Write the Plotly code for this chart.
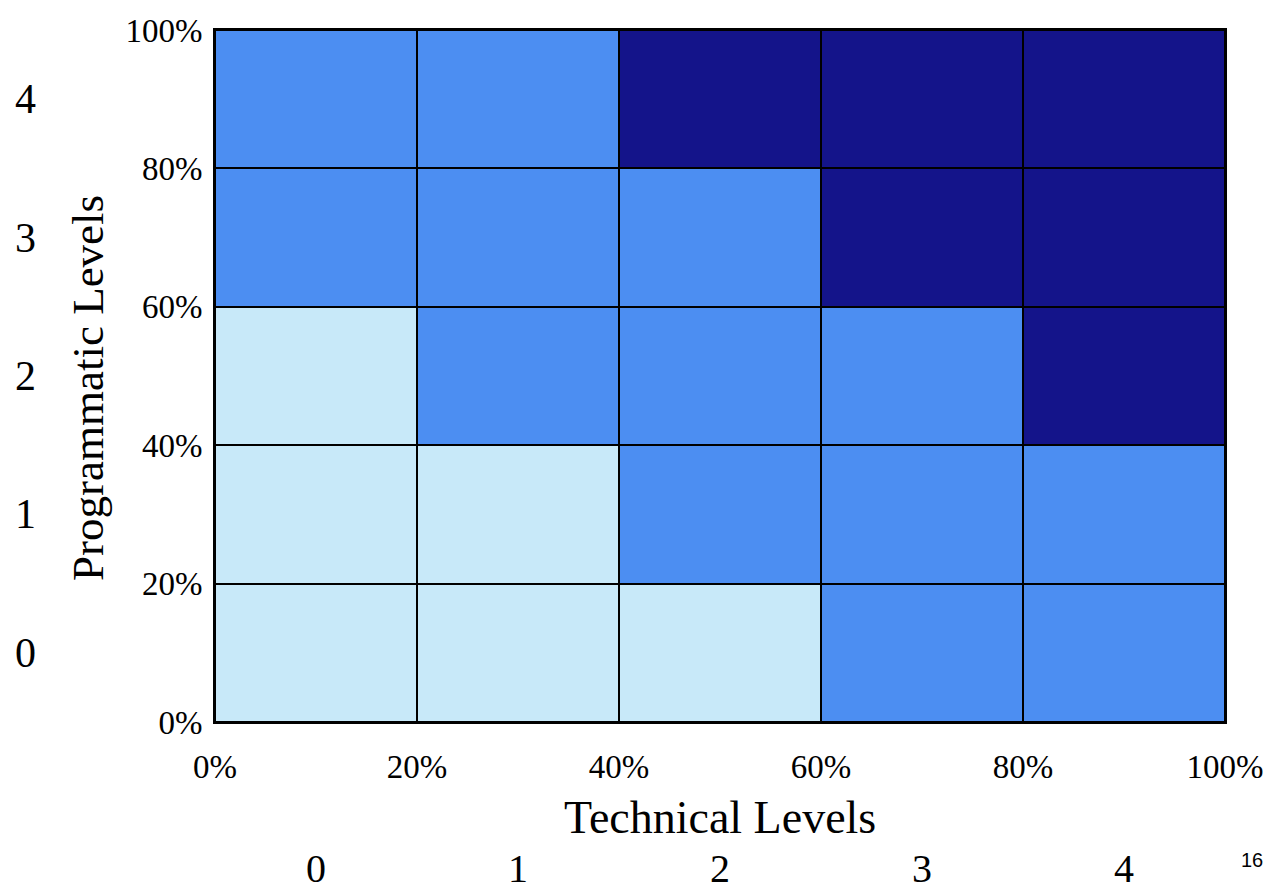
import plotly.graph_objects as go

# ---- data ----
technical_levels = ["0", "1", "2", "3", "4"]
programmatic_levels = ["0", "1", "2", "3", "4"]
pct_ticks = [0, 20, 40, 60, 80, 100]
pct_labels = ["0%", "20%", "40%", "60%", "80%", "100%"]
# level code per cell (0 = light, 1 = medium, 2 = dark); rows bottom (0) -> top (4)
row_p0 = [0, 0, 0, 1, 1]
row_p1 = [0, 0, 1, 1, 1]
row_p2 = [0, 1, 1, 1, 2]
row_p3 = [1, 1, 1, 2, 2]
row_p4 = [1, 1, 2, 2, 2]
z = [row_p0, row_p1, row_p2, row_p3, row_p4]

LIGHT = "#c8e9f9"
MED = "#4c8ef2"
DARK = "#14148a"
SERIF = "Liberation Serif, Times New Roman, serif"

step = 100 / len(technical_levels)
centers = [step * i + step / 2 for i in range(len(technical_levels))]

fig = go.Figure(go.Heatmap(
    z=z, x=centers, y=centers,
    zmin=0, zmax=2,
    colorscale=[[0, LIGHT], [1/3, LIGHT], [1/3, MED], [2/3, MED], [2/3, DARK], [1, DARK]],
    showscale=False, xgap=2, ygap=2, hoverinfo="skip",
))

fig.update_layout(
    width=1268, height=890,
    margin=dict(l=215, r=43, t=30, b=168),
    paper_bgcolor="white", plot_bgcolor="black",
    font=dict(family=SERIF, color="black"),
    showlegend=False,
)
fig.update_xaxes(
    range=[0, 100], tickvals=pct_ticks, ticktext=pct_labels,
    tickfont=dict(size=33, family=SERIF), ticks="", ticklabelstandoff=14,
    ticklabeloverflow="allow", automargin=False,
    showgrid=False, zeroline=False, showline=True, linecolor="black",
    linewidth=2, mirror=True,
)
fig.update_yaxes(
    range=[0, 100], tickvals=pct_ticks, ticktext=pct_labels,
    tickfont=dict(size=33, family=SERIF), ticks="", ticklabelstandoff=4,
    ticklabeloverflow="allow", automargin=False,
    showgrid=False, zeroline=False, showline=True, linecolor="black",
    linewidth=2, mirror=True,
)

ann = []
for c, lab in zip(centers, technical_levels):
    ann.append(dict(x=c, y=-0.212, xref="x", yref="paper", text=lab,
                    showarrow=False, font=dict(size=40, family=SERIF),
                    xanchor="center", yanchor="middle"))
for c, lab in zip(centers, programmatic_levels):
    ann.append(dict(x=-0.188, y=c, xref="paper", yref="y", text=lab,
                    showarrow=False, font=dict(size=42, family=SERIF),
                    xanchor="center", yanchor="middle"))
ann.append(dict(x=0.5, y=-0.1387, xref="paper", yref="paper", text="Technical Levels",
                showarrow=False, font=dict(size=46, family=SERIF),
                xanchor="center", yanchor="middle"))
ann.append(dict(x=-0.1257, y=0.4827, xref="paper", yref="paper", text="Programmatic Levels",
                showarrow=False, font=dict(size=45, family=SERIF), textangle=-90,
                xanchor="center", yanchor="middle"))
ann.append(dict(x=1.0396, y=-0.1994, xref="paper", yref="paper", text="16",
                showarrow=False, font=dict(size=20, family="Liberation Sans, Arial, sans-serif"),
                xanchor="right", yanchor="middle"))
fig.update_layout(annotations=ann)

fig.write_html("out.html",
               config={"displayModeBar": False},
               post_script="document.body.style.margin='0';document.body.style.overflow='hidden';")
